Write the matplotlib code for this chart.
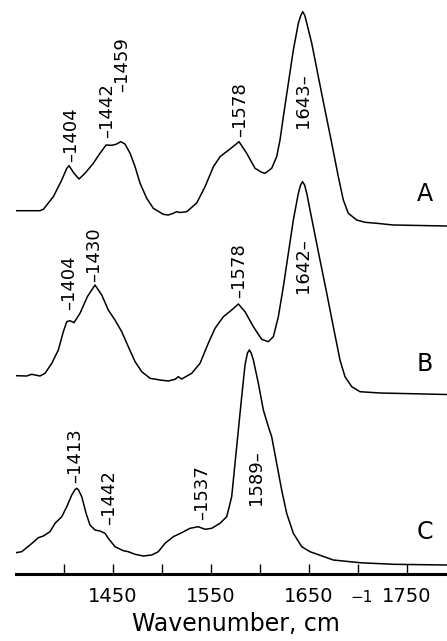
import matplotlib
matplotlib.use('Agg')
import matplotlib.pyplot as plt

# spectrum A (wavenumber, absorbance in arbitrary units)
wn_a = [1351.2, 1375.7, 1379.1, 1389.3, 1397.9, 1403.0, 1405.3, 1410.4, 1415.5,
        1421.6, 1430.1, 1436.9, 1443.1, 1448.9, 1453.3, 1458.1, 1462.4, 1467.6,
        1472.7, 1477.8, 1484.6, 1491.3, 1501.5, 1506.6, 1511.7, 1515.2, 1518.6,
        1525.4, 1535.6, 1544.1, 1552.6, 1559.4, 1569.6, 1578.8, 1586.6, 1595.1,
        1601.9, 1605.3, 1612.1, 1617.2, 1620.6, 1624.0, 1629.1, 1634.2, 1639.3,
        1641.8, 1643.8, 1645.9, 1647.9, 1653.0, 1659.7, 1666.5, 1673.4, 1680.1,
        1685.2, 1690.3, 1698.9, 1707.3, 1719.3, 1736.2, 1790.7]
abs_a = [15.3, 15.3, 16.7, 29.3, 46.0, 57.7, 60.3, 52.7, 47.0,
         52.7, 62.7, 72.7, 81.0, 80.7, 81.7, 84.3, 82.0, 72.7,
         59.3, 42.7, 27.7, 17.7, 11.7, 11.0, 12.7, 14.3, 13.5,
         14.3, 23.0, 39.3, 59.3, 69.3, 77.0, 84.3, 72.7, 57.7,
         53.7, 52.7, 57.7, 69.3, 86.0, 109.3, 142.7, 176.0, 202.7,
         210.5, 214.3, 210.5, 202.7, 182.7, 149.3, 116.0, 82.7, 49.3,
         26.0, 12.7, 6.0, 3.7, 2.7, 1.0, 0.0]

# spectrum B
wn_b = [1351.2, 1362.1, 1367.2, 1375.7, 1380.8, 1387.7, 1394.4, 1399.5, 1403.0,
        1406.3, 1410.4, 1416.5, 1424.0, 1431.8, 1438.7, 1445.4, 1452.2, 1459.1,
        1465.8, 1472.7, 1479.5, 1488.0, 1498.2, 1506.6, 1513.5, 1516.8, 1520.3,
        1530.5, 1539.0, 1547.4, 1554.3, 1562.8, 1571.3, 1578.1, 1584.9, 1593.4,
        1601.9, 1608.7, 1613.8, 1618.9, 1624.0, 1629.1, 1634.2, 1639.3, 1641.6,
        1643.6, 1645.7, 1647.9, 1654.6, 1661.4, 1668.3, 1675.0, 1681.8, 1686.9,
        1693.8, 1702.2, 1722.7, 1790.7]
abs_b = [18.8, 18.5, 20.2, 18.5, 21.2, 31.2, 44.5, 62.8, 72.8,
         73.8, 71.8, 81.2, 97.8, 109.5, 99.5, 84.5, 74.5, 62.8,
         47.8, 32.8, 22.8, 16.2, 14.5, 13.5, 15.2, 17.8, 15.5,
         21.2, 31.2, 51.2, 66.2, 77.8, 84.5, 90.5, 82.8, 67.8,
         55.2, 52.8, 57.8, 77.8, 107.8, 141.2, 174.5, 201.2, 209.5,
         212.8, 209.5, 201.2, 167.8, 134.5, 101.2, 67.8, 34.5, 17.8,
         7.8, 2.8, 1.5, 0.0]

# spectrum C
wn_c = [1351.2, 1357.0, 1365.5, 1374.0, 1379.1, 1385.9, 1391.0, 1397.9, 1403.0,
        1408.1, 1411.5, 1413.2, 1415.0, 1418.3, 1422.7, 1426.7, 1431.8, 1436.9,
        1442.0, 1445.4, 1452.2, 1460.7, 1465.8, 1472.7, 1481.1, 1489.7, 1496.4,
        1503.3, 1511.7, 1520.3, 1528.8, 1537.2, 1544.1, 1550.9, 1559.4, 1566.2,
        1571.3, 1574.7, 1578.1, 1581.5, 1584.9, 1587.4, 1589.3, 1591.2, 1593.4,
        1598.5, 1603.6, 1608.7, 1612.1, 1617.2, 1622.3, 1627.4, 1634.2, 1642.8,
        1651.2, 1675.0, 1702.2, 1736.2, 1790.7]
abs_c = [12.3, 13.3, 20.0, 27.3, 29.0, 33.3, 41.7, 48.3, 58.3,
         70.0, 75.5, 76.7, 75.0, 68.3, 51.7, 40.0, 35.0, 34.0,
         31.7, 26.7, 18.3, 14.3, 13.3, 10.7, 9.0, 10.0, 13.3,
         21.7, 28.3, 32.3, 36.7, 38.3, 35.7, 36.7, 41.7, 48.3,
         68.3, 101.7, 135.0, 168.3, 200.0, 212.0, 215.0, 212.0, 205.0,
         181.7, 155.0, 138.3, 128.3, 101.7, 75.0, 51.7, 31.7, 18.3,
         13.3, 5.0, 2.3, 0.7, 0.0]

offsets = [348, 179.5, 9]
names = ['A', 'B', 'C']

peak_labels = [['\u20131404', '\u20131442', '\u20131459', '\u20131578', '1643\u2013'],
               ['\u20131404', '\u20131430', '\u20131578', '1642\u2013'],
               ['\u20131413', '\u20131442', '\u20131537', '1589\u2013']]
# where the foot of each rotated label sits (wavenumber, height)
label_x = [[1407.9, 1443.8, 1459.1, 1579.8, 1644.4],
           [1405.3, 1431.3, 1578.8, 1643.6],
           [1411.4, 1446.1, 1540.7, 1595.8]]
label_y = [[412.3, 436.0, 482.3, 437.3, 445.7],
           [264.0, 292.3, 275.7, 280.7],
           [90.7, 49.0, 54.0, 69.0]]

tick_pos = [1400, 1450, 1500, 1550, 1600, 1650, 1700, 1750]
tick_txt = ['', '1450', '', '1550', '', '1650', '', '1750']

fig = plt.figure(figsize=(4.47, 6.41), dpi=100)
ax = fig.add_axes([16/447, 67/641, 431/447, 574/641])

for wn, a, off in zip([wn_a, wn_b, wn_c], [abs_a, abs_b, abs_c], offsets):
    ax.plot(wn, [v + off for v in a], color='black', lw=1.1,
            solid_joinstyle='round', solid_capstyle='round')

for txts, xs, ys in zip(peak_labels, label_x, label_y):
    for t, x, y in zip(txts, xs, ys):
        ax.text(x, y, t, rotation=90, ha='center', va='bottom', fontsize=13)

for n, off in zip(names, [380, 210, 42]):
    ax.text(1768.6, off, n, ha='center', va='center', fontsize=17)

ax.set_xlim(1351.2, 1791.0)
ax.set_ylim(0, 574)
for s in ['left', 'right', 'top']:
    ax.spines[s].set_visible(False)
ax.spines['bottom'].set_linewidth(2.2)
ax.set_yticks([])
ax.set_xticks(tick_pos)
ax.set_xticklabels(tick_txt)
ax.tick_params(axis='x', direction='in', length=7, width=1, pad=9, labelsize=14)
ax.set_xlabel('Wavenumber, cm', fontsize=17)
ax.xaxis.set_label_coords(0.510, -0.066)
fig.text(362/447, 1 - 598/641, '\u22121', ha='center', va='center', fontsize=11)

fig.savefig('out.png', dpi=100)
